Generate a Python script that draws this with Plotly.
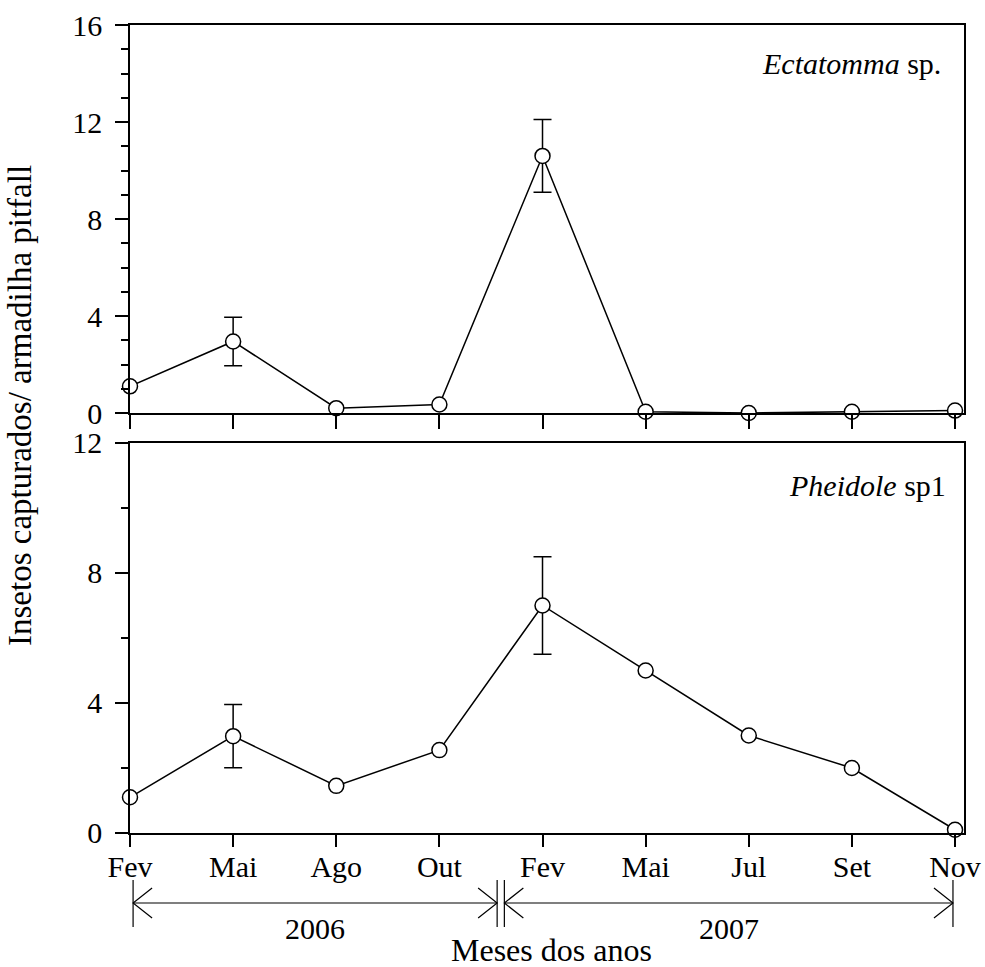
import plotly.graph_objects as go
from plotly.subplots import make_subplots

# ---- data ----
months = ["Fev", "Mai", "Ago", "Out", "Fev", "Mai", "Jul", "Set", "Nov"]
ectatomma = [1.1, 2.95, 0.2, 0.35, 10.6, 0.05, 0.0, 0.05, 0.1]
pheidole = [1.1, 2.98, 1.45, 2.55, 7.0, 5.0, 3.0, 2.0, 0.1]
err_idx = [1, 4]
ectatomma_err = [1.0, 1.5]
pheidole_err = [0.97, 1.5]
years = ["2006", "2007"]
year_spans = [(0.03, 3.56), (3.63, 7.98)]

FONT = "Liberation Serif"
TICK_SIZE = 30
TITLE_SIZE = 33
x_idx = list(range(len(months)))

fig = make_subplots(rows=2, cols=1, vertical_spacing=0.0)

def add_series(vals, errs, row):
    fig.add_trace(go.Scatter(
        x=err_idx, y=[vals[i] for i in err_idx], mode="markers",
        marker=dict(size=1, color="rgba(0,0,0,0)"),
        error_y=dict(type="data", array=errs, symmetric=True,
                     color="black", thickness=1.5, width=9),
        cliponaxis=False, showlegend=False, hoverinfo="skip"), row=row, col=1)
    fig.add_trace(go.Scatter(
        x=x_idx, y=vals, mode="lines+markers",
        line=dict(color="black", width=1.5),
        marker=dict(symbol="circle", size=15, color="white",
                    line=dict(color="black", width=1.5)),
        cliponaxis=False, showlegend=False), row=row, col=1)

add_series(ectatomma, ectatomma_err, 1)
add_series(pheidole, pheidole_err, 2)

axis_common = dict(showline=True, linecolor="black", linewidth=1.7, mirror=True,
                   showgrid=False, zeroline=False, ticks="outside", tickcolor="black",
                   tickwidth=1.7, automargin=False,
                   tickfont=dict(family=FONT, size=TICK_SIZE, color="black"))

fig.update_xaxes(range=[0, 8.087], tickvals=x_idx, ticktext=months,
                 ticklabeloverflow="allow", **axis_common)
fig.update_xaxes(showticklabels=False, ticklen=14, row=1, col=1)
fig.update_xaxes(ticklen=12, ticklabelstandoff=-6, row=2, col=1)

minor_common = dict(ticklen=7, ticks="outside", tickcolor="black", tickwidth=1.7)
fig.update_yaxes(range=[0, 16], tickvals=[0, 4, 8, 12, 16], ticklen=13,
                 minor=dict(dtick=1, **minor_common),
                 ticklabelstandoff=7, row=1, col=1, **axis_common)
fig.update_yaxes(range=[0, 12], tickvals=[0, 4, 8, 12], ticklen=13,
                 minor=dict(dtick=2, **minor_common),
                 ticklabelstandoff=7, row=2, col=1, **axis_common)

fig.update_layout(
    width=985, height=967,
    margin=dict(l=130, r=21, t=25, b=134),
    plot_bgcolor="white", paper_bgcolor="white",
    font=dict(family=FONT, size=TICK_SIZE, color="black"),
    xaxis=dict(domain=[0, 1]), yaxis=dict(domain=[0.5198, 1]),
    xaxis2=dict(domain=[0, 1]), yaxis2=dict(domain=[0, 0.4827]),
)

def py2paper(py):
    return (833 - py) / 808.0

def px2paper(px):
    return (px - 130) / 834.0

shapes = []
annots = []
yA = py2paper(903)
yb0, yb1 = py2paper(880), py2paper(927)
for label, (a, b) in zip(years, year_spans):
    shapes.append(dict(type="line", xref="x2", yref="paper", x0=a, x1=b, y0=yA, y1=yA,
                       line=dict(color="black", width=1.2)))
    for xv in (a, b):
        shapes.append(dict(type="line", xref="x2", yref="paper", x0=xv, x1=xv,
                           y0=yb0, y1=yb1, line=dict(color="black", width=1.2)))
    shapes.append(dict(type="path", xref="x2", yref="paper", xsizemode="pixel",
                       ysizemode="pixel", xanchor=a, yanchor=yA,
                       path="M 19,15 L 0,0 L 19,-15", line=dict(color="black", width=1.2)))
    shapes.append(dict(type="path", xref="x2", yref="paper", xsizemode="pixel",
                       ysizemode="pixel", xanchor=b, yanchor=yA,
                       path="M -19,15 L 0,0 L -19,-15", line=dict(color="black", width=1.2)))
    annots.append(dict(text=label, xref="x2", yref="paper", x=(a + b) / 2, y=py2paper(928),
                       showarrow=False, xanchor="center", yanchor="middle",
                       font=dict(family=FONT, size=TICK_SIZE, color="black")))

annots.append(dict(text="Meses dos anos", xref="paper", yref="paper",
                   x=px2paper(551), y=py2paper(950), showarrow=False,
                   xanchor="center", yanchor="middle",
                   font=dict(family=FONT, size=TITLE_SIZE - 1, color="black")))
annots.append(dict(text="Insetos capturados/ armadilha pitfall", xref="paper", yref="paper",
                   x=px2paper(20), y=py2paper(406), textangle=-90, showarrow=False,
                   xanchor="center", yanchor="middle",
                   font=dict(family=FONT, size=TITLE_SIZE, color="black")))
annots.append(dict(text="<i>Ectatomma</i> sp.", xref="paper", yref="paper",
                   x=px2paper(943), y=py2paper(63), xanchor="right", yanchor="middle",
                   showarrow=False, font=dict(family=FONT, size=TICK_SIZE, color="black")))
annots.append(dict(text="<i>Pheidole</i> sp1", xref="paper", yref="paper",
                   x=px2paper(948), y=py2paper(485), xanchor="right", yanchor="middle",
                   showarrow=False, font=dict(family=FONT, size=TICK_SIZE, color="black")))

fig.update_layout(shapes=shapes, annotations=annots)
fig.write_html("out.html", config={"displayModeBar": False},
               post_script="document.body.style.margin='0px';")
